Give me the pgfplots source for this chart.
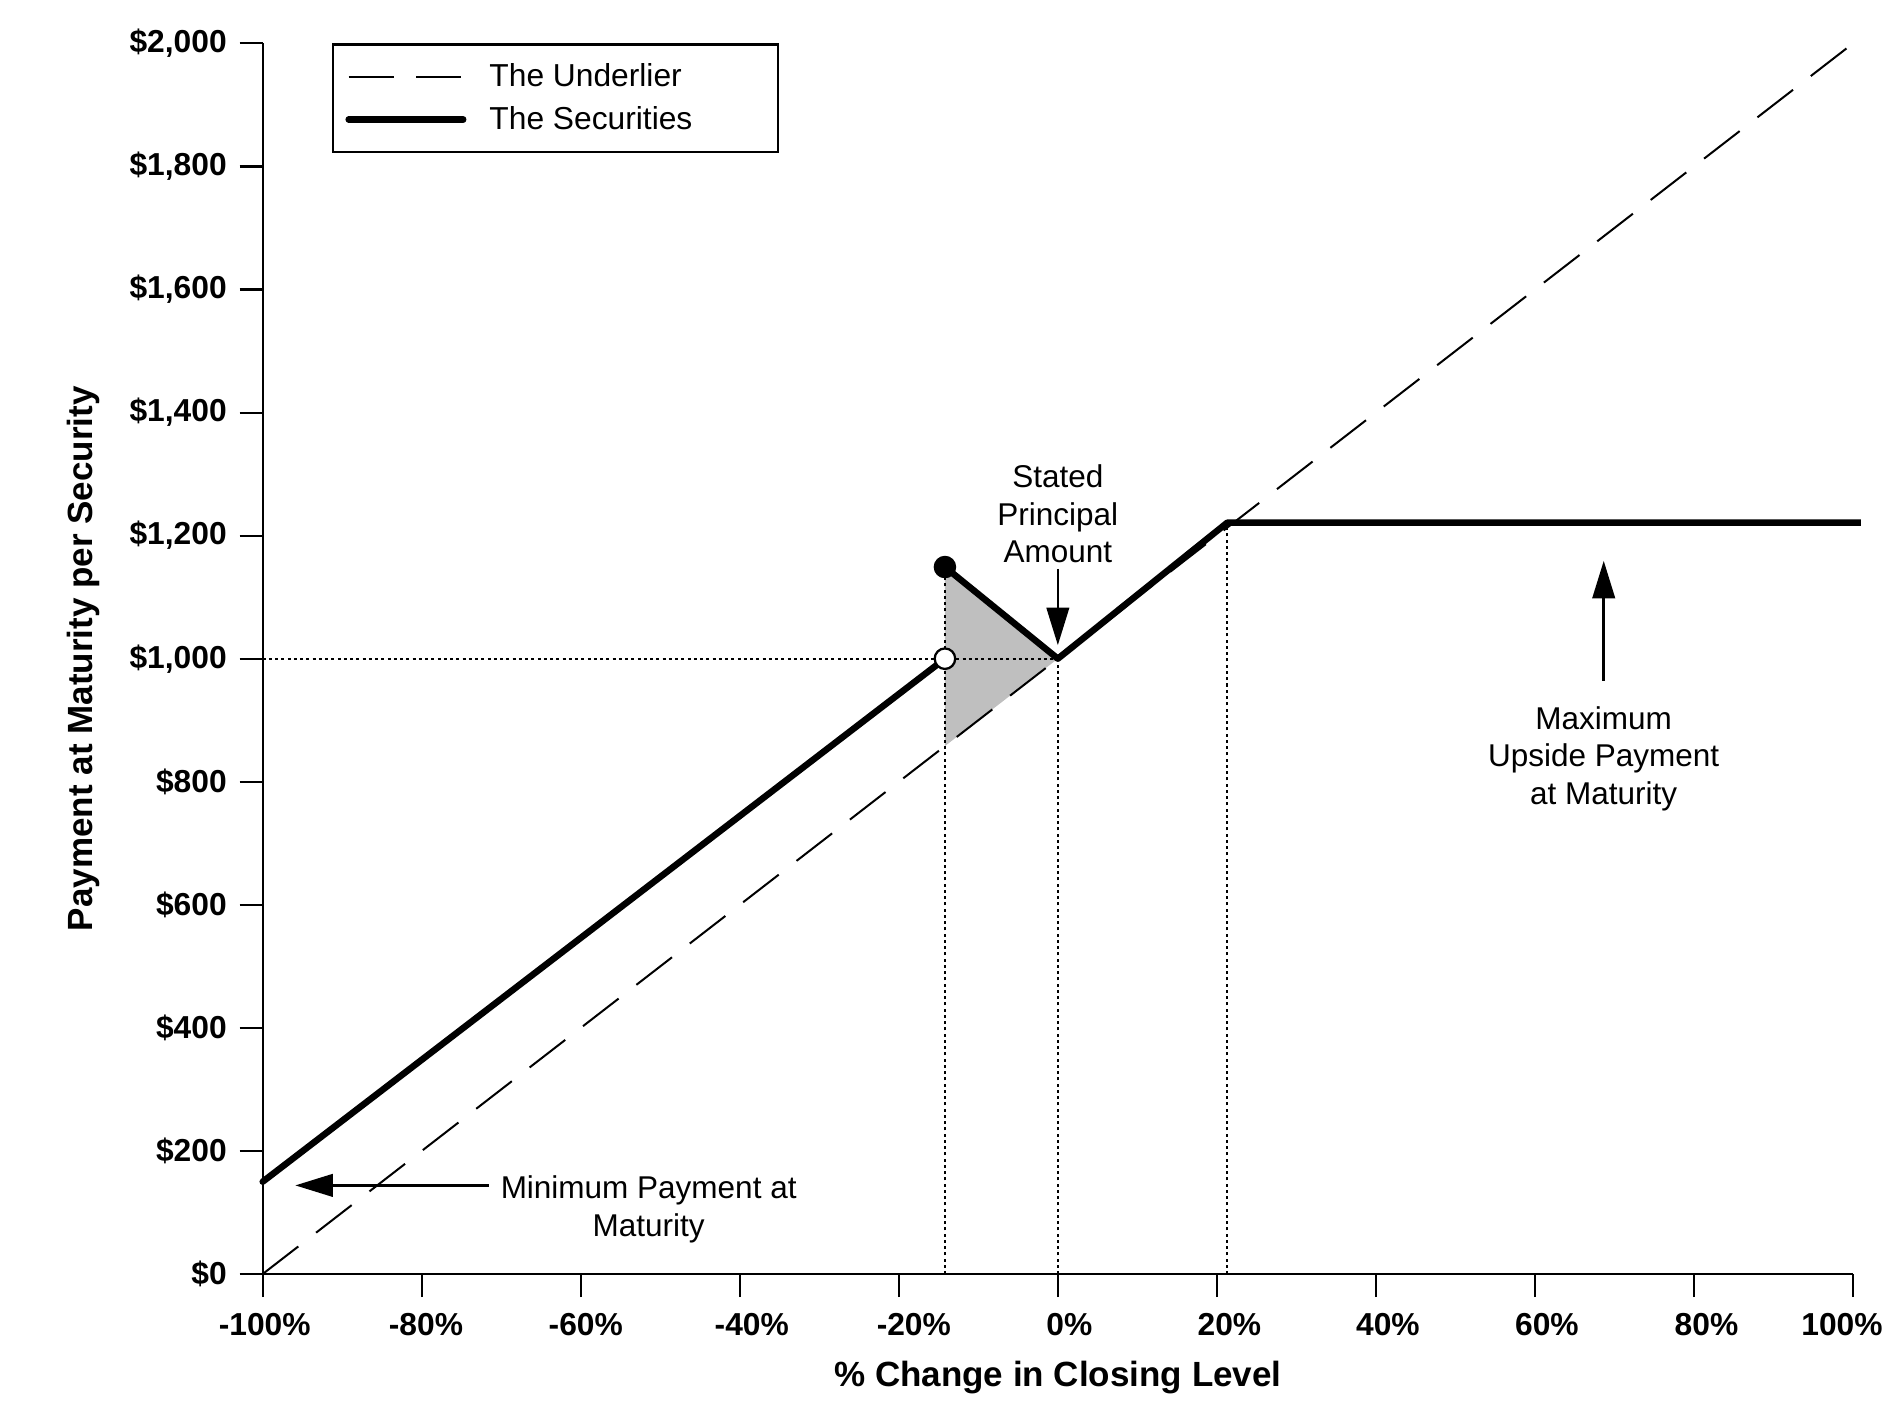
\documentclass[border=0pt]{standalone}
\usepackage{fontspec}
\setmainfont{Liberation Sans}
\usepackage{pgfplots}
\pgfplotsset{compat=1.18}
\usetikzlibrary{arrows.meta}
\newcommand\xl[2]{\hspace*{#1}#2}
\begin{document}
\begin{tikzpicture}
\begin{axis}[
  at={(105.08pt,58.4pt)}, anchor=south west,
  width=636.12pt, height=492.24pt, scale only axis,
  xmin=-100, xmax=100, ymin=0, ymax=2000,
  clip=false,
  axis lines*=left,
  axis line style={line width=0.85pt, black},
  xtick={-100,-80,-60,-40,-20,0,20,40,60,80,100},
  xticklabels={\xl{1.6pt}{-100\%},\xl{3.4pt}{-80\%},\xl{4pt}{-60\%},\xl{9.6pt}{-40\%},\xl{12pt}{-20\%},\xl{9.2pt}{0\%},\xl{10pt}{20\%},\xl{9.6pt}{40\%},\xl{9.6pt}{60\%},\xl{10pt}{80\%},\xl{-8.8pt}{100\%}},
  ytick={0,200,400,600,800,1000,1200,1400,1600,1800,2000},
  yticklabels={\$0,\$200,\$400,\$600,\$800,{\$1,000},{\$1,200},{\$1,400},{\$1,600},{\$1,800},{\$2,000}},
  tick align=outside, major tick length=9.2pt,
  tick style={line width=0.85pt, black},
  xticklabel style={font=\bfseries\fontsize{12.7}{14}\selectfont, anchor=north, inner sep=0pt, yshift=-6.3pt},
  yticklabel style={font=\bfseries\fontsize{12.7}{14}\selectfont, anchor=east, inner sep=0pt, xshift=-5pt},
  xlabel={\% Change in Closing Level},
  ylabel={Payment at Maturity per Security},
  xlabel style={at={(axis description cs:0.5,-0.0845)}, anchor=center, font=\bfseries\fontsize{14}{16}\selectfont},
  ylabel style={at={(axis description cs:-0.1125,0.5)}, anchor=center, font=\bfseries\fontsize{14}{16}\selectfont},
  legend style={at={(axis description cs:0.0435,1)}, anchor=north west, draw=black, line width=0.85pt,
    inner xsep=5pt, inner ysep=6pt, row sep=3.5pt, font=\fontsize{12.7}{14}\selectfont,
    nodes={inner sep=1.5pt},
    /tikz/every odd column/.append style={column sep=7.7pt}},
  legend cell align=left,
  legend image code/.code={\draw[#1] (0pt,0pt) -- (45.8pt,0pt);},
  dotline/.style={black, line width=0.85pt, dash pattern=on 1.2pt off 1.3pt},
]
% shaded region
\addplot[draw=none, fill=black!25, forget plot] coordinates {(-14.2,1149) (0,1000) (-14.2,858) (-14.2,1149)};
% dotted guides
\addplot[dotline, forget plot] coordinates {(-100,1000) (0,1000)};
\addplot[dotline, forget plot] coordinates {(-14.2,0) (-14.2,1149)};
\addplot[dotline, forget plot] coordinates {(0,0) (0,1000)};
\addplot[dotline, forget plot] coordinates {(21.3,0) (21.3,1221)};
% underlier
\addplot[black, line width=0.8pt, dash pattern=on 18pt off 9pt] coordinates {(-100,0) (100,2000)};
\addlegendentry{\makebox[109pt][l]{The Underlier}}
% securities
\addplot[black, line width=2.6pt, line cap=round, line join=round] coordinates {(-100,150) (-14.2,1000)};
\addlegendentry{\makebox[109pt][l]{The Securities}}
\addplot[black, line width=2.6pt, line join=round, forget plot] coordinates {(-14.2,1149) (0,1000) (21.3,1221) (101,1221)};
% marks
\addplot[only marks, mark=*, mark size=4.3pt, mark options={fill=black, draw=black}, forget plot] coordinates {(-14.2,1149)};
\addplot[only marks, mark=*, mark size=4.1pt, mark options={fill=white, draw=black, line width=0.9pt}, forget plot] coordinates {(-14.2,1000)};
% annotations
\node[align=center, font=\fontsize{12.6}{15}\selectfont] at (axis cs:0,1235) {Stated\\Principal\\Amount};
\draw[-{Triangle[length=15pt,width=9pt]}, line width=1pt] (axis cs:0,1146) -- (axis cs:0,1022);
\node[align=center, font=\fontsize{12.6}{15}\selectfont] at (axis cs:68.65,838) {Maximum\\Upside Payment\\at Maturity};
\draw[-{Triangle[length=15pt,width=9pt]}, line width=1pt] (axis cs:68.65,964) -- (axis cs:68.65,1159);
\node[align=center, font=\fontsize{12.6}{15}\selectfont] at (axis cs:-51.46,105) {Minimum Payment at\\Maturity};
\draw[-{Triangle[length=15pt,width=9pt]}, line width=1pt] (axis cs:-71.6,144) -- (axis cs:-95.9,144);
\end{axis}
\pgfresetboundingbox
\path[use as bounding box] (0,0) rectangle (754.8pt,568pt);
\end{tikzpicture}
\end{document}
